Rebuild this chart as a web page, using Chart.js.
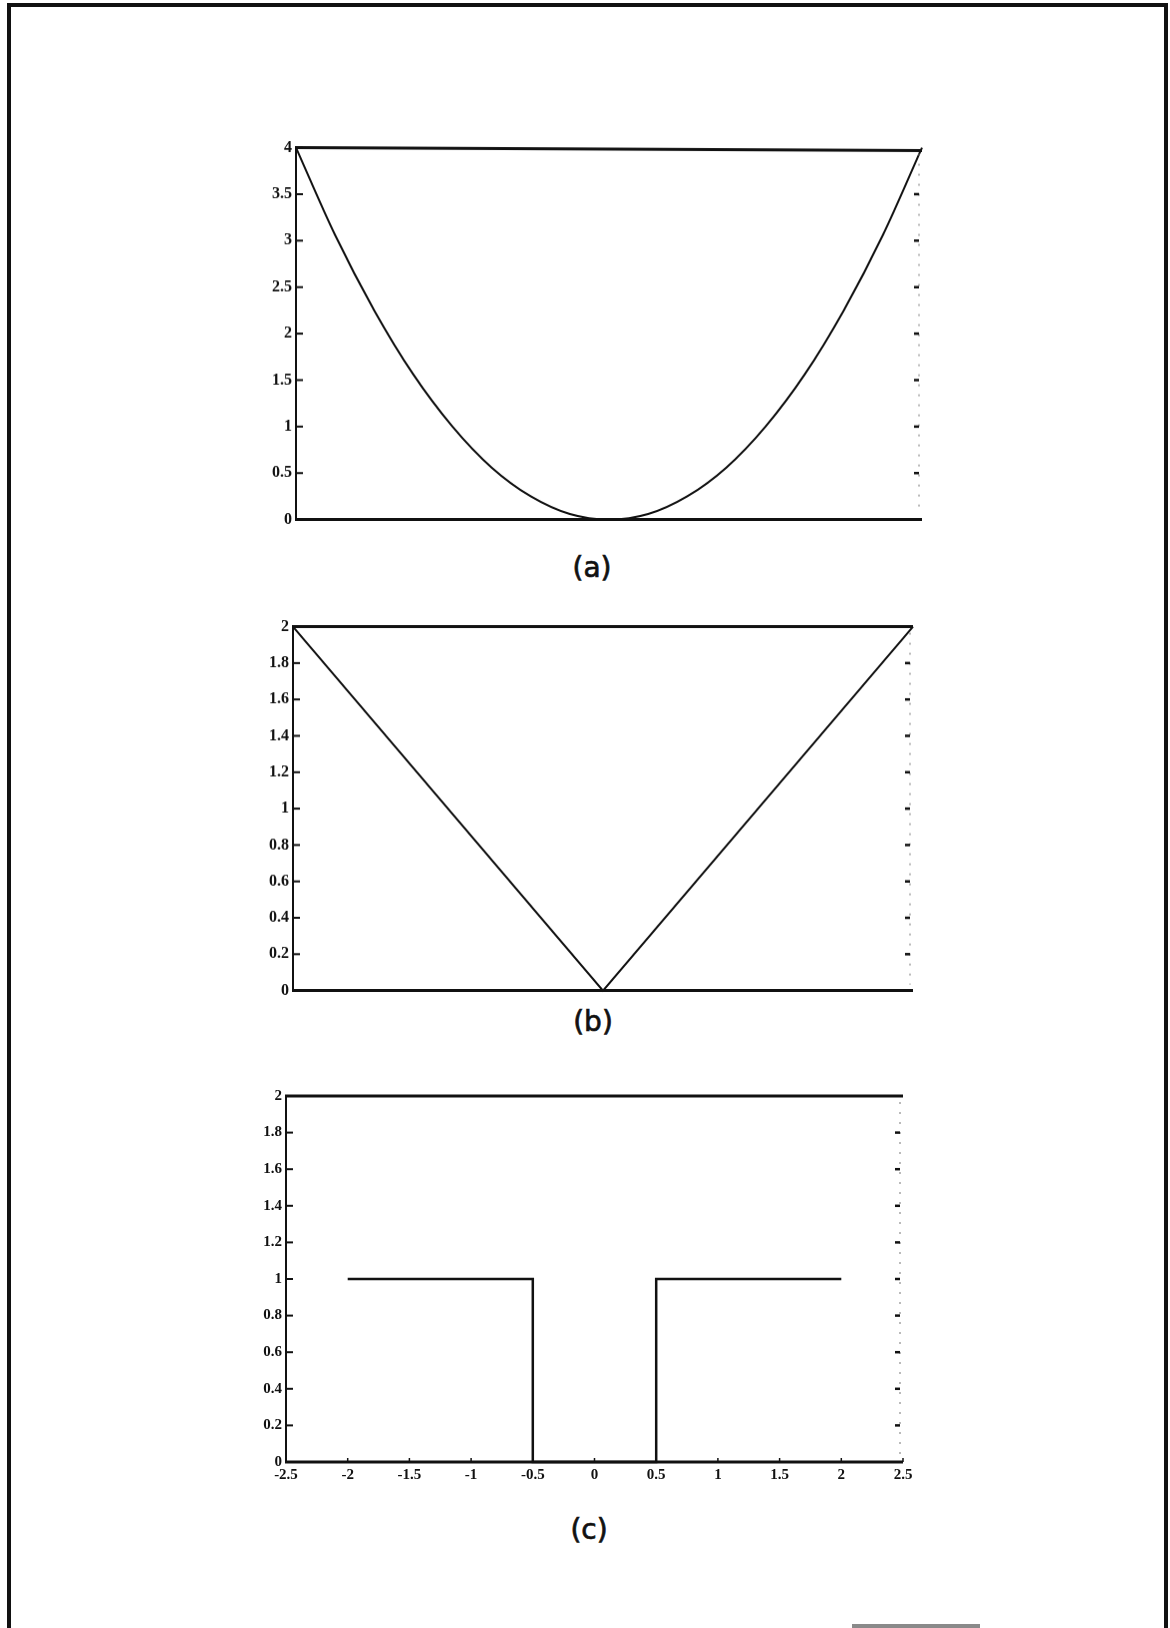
<!DOCTYPE html>
<html>
<head>
<meta charset="utf-8">
<script src="https://cdn.jsdelivr.net/npm/chart.js@4.4.1/dist/chart.umd.min.js"></script>
<style>
  html, body { margin: 0; padding: 0; background: #fff; }
  body { width: 1170px; height: 1628px; position: relative; overflow: hidden; }
  .page-frame {
    position: absolute; left: 7px; top: 3px; width: 1161px; height: 1700px;
    border: 4px solid #111; box-sizing: border-box;
  }
  .plot { position: absolute; }
  .caption {
    position: absolute; width: 140px; margin-left: -70px; text-align: center;
    font-family: "DejaVu Sans", sans-serif; font-size: 28px; line-height: 32px; color: #111;
    -webkit-text-stroke: 0.7px #111;
  }
  .edge-strip { position: absolute; left: 852px; top: 1624px; width: 128px; height: 4px; background: #8a8a8a; }
</style>
</head>
<body>
<div class="page-frame"></div>

<canvas id="plotA" class="plot"></canvas>
<div class="caption" style="left:592px; top:552px;">(a)</div>

<canvas id="plotB" class="plot"></canvas>
<div class="caption" style="left:593px; top:1006px;">(b)</div>

<canvas id="plotC" class="plot"></canvas>
<div class="caption" style="left:589px; top:1514px;">(c)</div>

<div class="edge-strip"></div>

<script>
// (a) quadratic
const quadX = [-2, -1.75, -1.5, -1.25, -1, -0.75, -0.5, -0.25, 0, 0.25, 0.5, 0.75, 1, 1.25, 1.5, 1.75, 2];
const quadY = [4, 3.06, 2.25, 1.56, 1, 0.56, 0.25, 0.06, 0, 0.06, 0.25, 0.56, 1, 1.56, 2.25, 3.06, 4];
const quadYTicks = [0, 0.5, 1, 1.5, 2, 2.5, 3, 3.5, 4];
const quadYLabels = ['0', '0.5', '1', '1.5', '2', '2.5', '3', '3.5', '4'];

// (b) absolute value
const absX = [-2, 0, 2];
const absY = [2, 0, 2];
const absYTicks = [0, 0.2, 0.4, 0.6, 0.8, 1, 1.2, 1.4, 1.6, 1.8, 2];
const absYLabels = ['0', '0.2', '0.4', '0.6', '0.8', '1', '1.2', '1.4', '1.6', '1.8', '2'];

// (c) notch / pulse
const pulseX = [-2, -0.5, -0.5, 0.5, 0.5, 2];
const pulseY = [1, 1, 0, 0, 1, 1];
const pulseYTicks = [0, 0.2, 0.4, 0.6, 0.8, 1, 1.2, 1.4, 1.6, 1.8, 2];
const pulseYLabels = ['0', '0.2', '0.4', '0.6', '0.8', '1', '1.2', '1.4', '1.6', '1.8', '2'];
const pulseXTicks = [-2.5, -2, -1.5, -1, -0.5, 0, 0.5, 1, 1.5, 2, 2.5];
const pulseXLabels = ['-2.5', '-2', '-1.5', '-1', '-0.5', '0', '0.5', '1', '1.5', '2', '2.5'];

const INK = '#111';
const AXIS_W = 70;   // room for y labels
const PAD_TOP = 12;
const PAD_RIGHT = 20;

// frame: heavy top/bottom rules, solid left axis with inward ticks,
// faint dotted right side with short ticks
const framePlugin = {
  id: 'plotFrame',
  afterDraw(chart, args, opts) {
    const { ctx, chartArea: a, scales } = chart;
    const ys = scales.y, xs = scales.x;
    const seg = (x1, y1, x2, y2) => { ctx.beginPath(); ctx.moveTo(x1, y1); ctx.lineTo(x2, y2); ctx.stroke(); };
    ctx.save();
    ctx.strokeStyle = INK;
    ctx.lineCap = 'butt';

    ctx.lineWidth = 3;
    seg(a.left - 1, a.top, a.right, a.top + (opts.slant || 0));
    seg(a.left - 1, a.bottom, a.right, a.bottom);

    ctx.lineWidth = 2;
    seg(a.left, a.top, a.left, a.bottom);
    ys.ticks.forEach(t => {
      const py = ys.getPixelForValue(t.value);
      seg(a.left, py, a.left + 7, py);
    });

    ctx.lineWidth = 1;
    ctx.strokeStyle = '#777';
    ctx.setLineDash([2, 8]);
    seg(a.right - 3, a.top + 6, a.right - 3, a.bottom - 6);
    ctx.setLineDash([]);
    ctx.strokeStyle = INK;
    ctx.lineWidth = 2.5;
    ys.ticks.forEach(t => {
      if (t.value === ys.min || t.value === ys.max) return;
      const py = ys.getPixelForValue(t.value);
      seg(a.right - 8, py, a.right - 3, py);
    });

    if (opts.xTicks) {
      ctx.lineWidth = 1.5;
      xs.ticks.forEach(t => {
        const px = xs.getPixelForValue(t.value);
        seg(px, a.bottom, px, a.bottom - 4);
      });
    }
    ctx.restore();
  }
};

function buildPlot(id, box, xs, ys, cfg) {
  const el = document.getElementById(id);
  const xAxisH = cfg.xLabels ? 30 : 0;
  const w = box.width + AXIS_W + PAD_RIGHT;
  let h = box.height + PAD_TOP + (cfg.xLabels ? xAxisH : 12);
  el.width = w; el.height = h;
  el.style.width = w + 'px';
  el.style.height = h + 'px';

  const tickFont = { family: '"Liberation Serif", serif', weight: 'bold', size: cfg.fontSize };

  const chart = new Chart(el, {
    type: 'line',
    data: {
      datasets: [{
        data: xs.map((x, i) => ({ x, y: ys[i] })),
        borderColor: INK,
        borderWidth: cfg.lineWidth,
        pointRadius: 0,
        fill: false,
        cubicInterpolationMode: cfg.smooth ? 'monotone' : 'default',
        tension: 0,
        clip: false
      }]
    },
    options: {
      responsive: false,
      maintainAspectRatio: false,
      devicePixelRatio: 1,
      animation: false,
      events: [],
      layout: { padding: { top: PAD_TOP, right: PAD_RIGHT, left: 0, bottom: cfg.xLabels ? 0 : 12 } },
      plugins: {
        legend: { display: false },
        tooltip: { enabled: false },
        plotFrame: { xTicks: !!cfg.xLabels, slant: cfg.slant }
      },
      scales: {
        x: {
          type: 'linear',
          min: cfg.xMin, max: cfg.xMax,
          display: !!cfg.xLabels,
          grid: { display: false, drawTicks: false },
          border: { display: false },
          afterBuildTicks: s => { if (cfg.xTicks) s.ticks = cfg.xTicks.map(v => ({ value: v })); },
          afterFit: s => { s.height = xAxisH; },
          ticks: {
            color: INK, font: tickFont, padding: 4, maxRotation: 0, autoSkip: false,
            callback: (v, i) => cfg.xLabels ? cfg.xLabels[i] : ''
          }
        },
        y: {
          type: 'linear',
          min: cfg.yTicks[0], max: cfg.yTicks[cfg.yTicks.length - 1],
          grid: { display: false, drawTicks: false },
          border: { display: false },
          afterBuildTicks: s => { s.ticks = cfg.yTicks.map(v => ({ value: v })); },
          afterFit: s => { s.width = AXIS_W; },
          ticks: {
            color: INK, font: tickFont, padding: 4, autoSkip: false,
            callback: (v, i) => cfg.yLabels[i]
          }
        }
      }
    },
    plugins: [framePlugin]
  });

  // make the plotting area exactly box.height tall, then place the canvas
  const area = chart.chartArea;
  const dh = box.height - (area.bottom - area.top);
  if (Math.abs(dh) > 0.5) {
    h += dh;
    el.style.height = h + 'px';
    chart.resize(w, h);
  }
  el.style.left = (box.left - chart.chartArea.left) + 'px';
  el.style.top = (box.top - chart.chartArea.top) + 'px';
  return chart;
}

buildPlot('plotA', { left: 296, top: 148, width: 626, height: 371 }, quadX, quadY, {
  xMin: -2, xMax: 2, yTicks: quadYTicks, yLabels: quadYLabels,
  smooth: true, lineWidth: 2, fontSize: 16, slant: 3
});

buildPlot('plotB', { left: 293, top: 627, width: 620, height: 363 }, absX, absY, {
  xMin: -2, xMax: 2, yTicks: absYTicks, yLabels: absYLabels,
  smooth: false, lineWidth: 2, fontSize: 16
});

buildPlot('plotC', { left: 286, top: 1096, width: 617, height: 366 }, pulseX, pulseY, {
  xMin: -2.5, xMax: 2.5, yTicks: pulseYTicks, yLabels: pulseYLabels,
  xTicks: pulseXTicks, xLabels: pulseXLabels,
  smooth: false, lineWidth: 2.5, fontSize: 15
});
</script>
</body>
</html>
